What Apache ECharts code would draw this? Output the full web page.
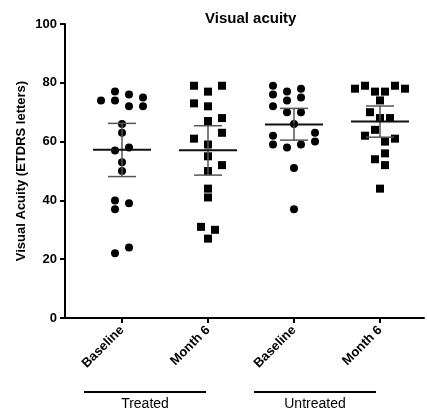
<!DOCTYPE html>
<html>
<head>
<meta charset="utf-8">
<title>Visual acuity</title>
<script src="https://cdn.jsdelivr.net/npm/echarts@6/dist/echarts.min.js"></script>
<style>
  html, body { margin: 0; padding: 0; background: #fff; }
  #chart { width: 427px; height: 420px; }
</style>
</head>
<body>
<div id="chart"></div>
<script>
  // categories along the x axis
  const categories = ['Baseline', 'Month 6', 'Baseline', 'Month 6'];
  const groupNames = ['Treated', 'Untreated'];
  const yTicks = [0, 20, 40, 60, 80, 100];

  // individual eyes, ETDRS letters
  const treatedBaseline = [74, 77, 74, 76, 75, 72, 72, 66, 63, 57, 58, 53, 50, 40, 37, 39, 22, 24];
  const treatedMonth6 = [79, 77, 79, 73, 72, 67, 68, 63, 61, 59, 55, 52, 50, 44, 41, 31, 30, 27];
  const untreatedBaseline = [79, 76, 77, 78, 74, 75, 72, 70, 70, 66, 62, 59, 58, 59, 63, 60, 51, 37];
  const untreatedMonth6 = [78, 79, 77, 77, 79, 78, 74, 70, 68, 68, 64, 62, 60, 61, 56, 54, 52, 44];

  // mean with 95% CI, per column
  const means = [57.2, 57.1, 65.8, 66.8];
  const ciLow = [48.1, 48.6, 60.5, 61.5];
  const ciHigh = [66.2, 65.4, 71.3, 72.1];

  // horizontal spread of the dots (px from column centre)
  const spreadTB = [-21, -7, -7, 7, 21, 7, 21, 0, 0, -7, 7, 0, 0, -7, -7, 7, -7, 7];
  const spreadTM = [-14, 0, 14, -14, 0, 0, 14, 14, -14, 0, 0, 14, 0, 0, 0, -7, 7, 0];
  const spreadUB = [-21, -21, -7, 7, -7, 7, -21, -7, 7, 0, -21, -21, -7, 7, 21, 21, 0, 0];
  const spreadUM = [-25, -15, -5, 5, 15, 25, 0, -10, 0, 10, -5, -15, 5, 15, 5, -5, 5, 0];

  const pxPerCat = 86;
  const font = '"Liberation Sans", Arial, sans-serif';

  const columns = [
    { values: treatedBaseline, spread: spreadTB, symbol: 'circle' },
    { values: treatedMonth6, spread: spreadTM, symbol: 'rect' },
    { values: untreatedBaseline, spread: spreadUB, symbol: 'circle' },
    { values: untreatedMonth6, spread: spreadUM, symbol: 'rect' },
  ];

  const chart = echarts.init(document.getElementById('chart'));

  const scatterSeries = columns.map((col, i) => ({
    type: 'scatter',
    symbol: col.symbol,
    symbolSize: 8,
    itemStyle: { color: '#000', opacity: 1 },
    data: col.values.map((v, k) => [i + col.spread[k] / pxPerCat, v]),
    z: 2,
  }));

  const summarySeries = {
    type: 'custom',
    z: 3,
    data: means.map((m, i) => [i, m, ciLow[i], ciHigh[i]]),
    renderItem: (params, api) => {
      const i = api.value(0);
      const m = api.value(1);
      const lo = api.value(2);
      const hi = api.value(3);
      const meanL = api.coord([i - 29 / pxPerCat, m]);
      const meanR = api.coord([i + 29 / pxPerCat, m]);
      const top = api.coord([i, hi]);
      const bot = api.coord([i, lo]);
      const capW = 14;
      const grey = { stroke: '#555', lineWidth: 1.5 };
      return {
        type: 'group',
        children: [
          { type: 'line', shape: { x1: top[0], y1: top[1], x2: bot[0], y2: bot[1] }, style: grey },
          { type: 'line', shape: { x1: top[0] - capW, y1: top[1], x2: top[0] + capW, y2: top[1] }, style: grey },
          { type: 'line', shape: { x1: bot[0] - capW, y1: bot[1], x2: bot[0] + capW, y2: bot[1] }, style: grey },
          { type: 'line', shape: { x1: meanL[0], y1: meanL[1], x2: meanR[0], y2: meanR[1] }, style: { stroke: '#111', lineWidth: 2 } },
        ],
      };
    },
  };

  chart.setOption({
    animation: false,
    title: {
      text: 'Visual acuity',
      left: 200,
      top: 6,
      textStyle: { fontFamily: font, fontSize: 15, fontWeight: 'bold', color: '#000' },
    },
    grid: { left: 65, right: 3, top: 24, bottom: 102 },
    xAxis: {
      type: 'value',
      min: -57 / pxPerCat,
      max: 3 + 44 / pxPerCat,
      splitLine: { show: false },
      axisLine: { onZero: false, lineStyle: { color: '#000', width: 2 } },
      axisTick: { show: true, customValues: [0, 1, 2, 3], length: 5, lineStyle: { color: '#000', width: 2 } },
      axisLabel: {
        customValues: [0, 1, 2, 3],
        formatter: (v) => categories[Math.round(v)],
        rotate: 45,
        margin: 10,
        fontFamily: font,
        fontSize: 13,
        fontWeight: 'bold',
        color: '#000',
      },
    },
    yAxis: {
      type: 'value',
      min: yTicks[0],
      max: yTicks[yTicks.length - 1],
      interval: 20,
      name: 'Visual Acuity (ETDRS letters)',
      nameLocation: 'middle',
      nameGap: 37,
      nameMoveOverlap: false,
      nameTextStyle: { fontFamily: font, fontSize: 13, fontWeight: 'bold', color: '#000' },
      splitLine: { show: false },
      axisLine: { show: true, onZero: false, lineStyle: { color: '#000', width: 2 } },
      axisTick: { show: true, length: 5, lineStyle: { color: '#000', width: 2 } },
      axisLabel: { margin: 8, fontFamily: font, fontSize: 13, fontWeight: 'bold', color: '#000' },
    },
    series: [...scatterSeries, summarySeries],
    graphic: [
      { type: 'line', shape: { x1: 84, y1: 392, x2: 206, y2: 392 }, style: { stroke: '#000', lineWidth: 2 } },
      { type: 'line', shape: { x1: 254, y1: 392, x2: 376, y2: 392 }, style: { stroke: '#000', lineWidth: 2 } },
      { type: 'text', x: 145, y: 397, style: { text: groupNames[0], fontFamily: font, fontSize: 14, fill: '#000', textAlign: 'center' } },
      { type: 'text', x: 315, y: 397, style: { text: groupNames[1], fontFamily: font, fontSize: 14, fill: '#000', textAlign: 'center' } },
    ],
  });
</script>
</body>
</html>
